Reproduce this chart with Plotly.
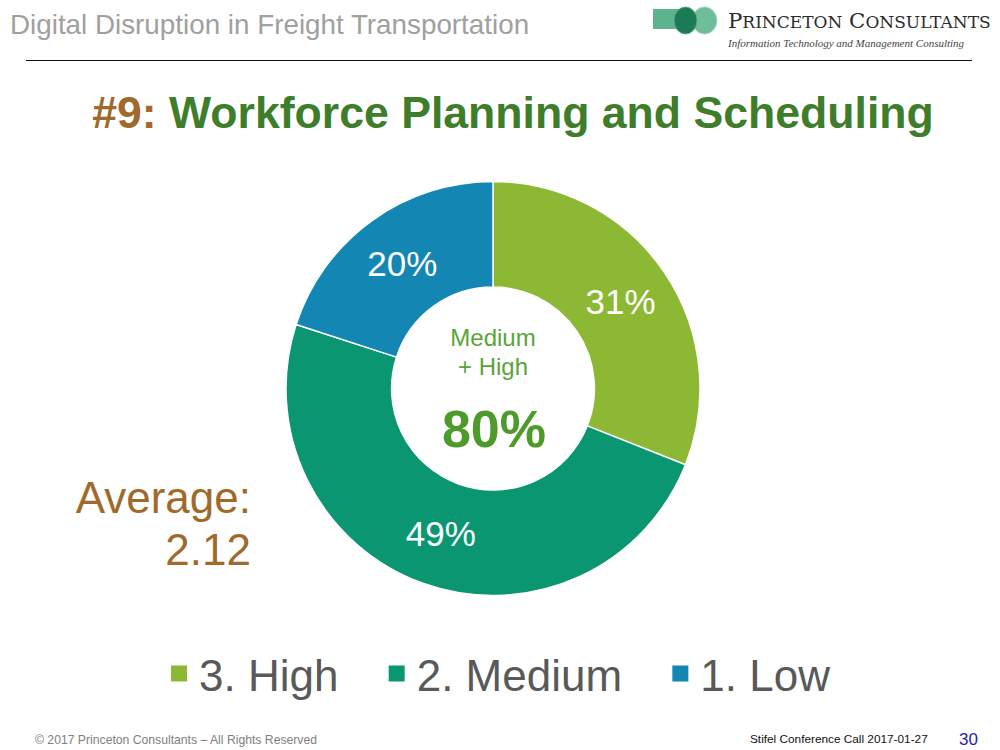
import plotly.graph_objects as go

# ---- data ----
categories = ["3. High", "2. Medium", "1. Low"]
values = [31, 49, 20]
colors = ["#8CB833", "#0B9672", "#1386B4"]
average_score = "2.12"

W, H = 1000, 750
SANS = "Liberation Sans, Arial, sans-serif"
SERIF = "DejaVu Serif, Liberation Serif, serif"
ISERIF = "Liberation Serif, Times New Roman, serif"


def px(x):
    return x / W


def py(y):
    return 1 - y / H


fig = go.Figure()

# donut
fig.add_trace(go.Pie(
    labels=categories,
    values=values,
    marker=dict(colors=colors, line=dict(color="white", width=1.5)),
    hole=0.49,
    sort=False,
    direction="clockwise",
    rotation=0,
    textinfo="percent",
    textposition="inside",
    insidetextorientation="horizontal",
    textfont=dict(family=SANS, size=35, color="white"),
    domain=dict(x=[px(286), px(700)], y=[py(597), py(180)]),
    showlegend=False,
    hoverinfo="label+percent",
))

# legend entries (same categories and colours)
for cat, col in zip(categories, colors):
    fig.add_trace(go.Scatter(
        x=[None], y=[None], mode="markers", name=cat + "\u00a0\u00a0\u2009",
        marker=dict(symbol="square", size=16, color=col, line=dict(width=0)),
        showlegend=True,
    ))

medium_high = values[0] + values[1]


def label(text, x, y, pos, family, size, color):
    fig.add_trace(go.Scatter(
        x=[x], y=[y], mode="text", text=[text], textposition=pos,
        textfont=dict(family=family, size=size, color=color),
        showlegend=False, hoverinfo="skip",
    ))


# header
label("Digital Disruption in Freight Transportation", 10, 27, "middle right", SANS, 27.8, "#A0A0A0")
# logo text
label("P<span style='font-size:17px'>RINCETON</span> C<span style='font-size:17px'>ONSULTANTS</span>",
      728, 23, "middle right", SERIF, 21.3, "#2B2B2B")
label("<i>Information Technology and Management Consulting</i>", 728, 44, "middle right",
      ISERIF, 11, "#444444")
# title
label("<b><span style='color:#A06A2C'>#9:</span> Workforce Planning and Scheduling</b>",
      513, 117, "middle center", SANS, 44.6, "#3E7D2A")
# centre of donut
label("Medium", 493, 340, "middle center", SANS, 24, "#5AA43A")
label("+ High", 493, 369, "middle center", SANS, 24, "#5AA43A")
label("<b>%d%%</b>" % medium_high, 494, 434, "middle center", SANS, 52, "#4C9B2B")
# average
label("Average:", 251, 502, "middle left", SANS, 44, "#A06A2C")
label(average_score, 251, 554, "middle left", SANS, 44, "#A06A2C")
# footer
label("\u00a9 2017 Princeton Consultants \u2013 All Rights Reserved", 35, 740.5, "middle right",
      SANS, 12.2, "#808080")
label("Stifel Conference Call 2017-01-27", 750, 740.5, "middle right", SANS, 11.8, "#111111")
label("30", 968.5, 740.5, "middle center", SANS, 17, "#2424B4")

shapes = [
    # header rule
    dict(type="line", xref="paper", yref="paper", x0=px(26), x1=px(972), y0=py(60.5), y1=py(60.5),
         line=dict(color="#111111", width=1.2)),
    # logo marks
    dict(type="rect", xref="paper", yref="paper", x0=px(653), x1=px(679), y0=py(29), y1=py(9),
         fillcolor="#5CB38E", line=dict(width=0)),
    dict(type="circle", xref="paper", yref="paper", x0=px(692), x1=px(717), y0=py(34), y1=py(7),
         fillcolor="#6DBE99", line=dict(color="#A8D9C2", width=1)),
    dict(type="circle", xref="paper", yref="paper", x0=px(674), x1=px(697), y0=py(34), y1=py(7),
         fillcolor="#1A7B56", line=dict(color="#5FA888", width=1)),
]

fig.update_layout(
    width=W, height=H,
    margin=dict(l=0, r=0, t=0, b=0),
    paper_bgcolor="white", plot_bgcolor="rgba(0,0,0,0)",
    xaxis=dict(visible=False, range=[0, W], fixedrange=True),
    yaxis=dict(visible=False, range=[H, 0], fixedrange=True),
    shapes=shapes,
    legend=dict(orientation="h", x=0.514, xanchor="center", y=py(674), yanchor="middle",
                font=dict(family=SANS, size=44, color="#595959"),
                itemclick=False, itemdoubleclick=False, bgcolor="rgba(0,0,0,0)"),
)

fig.write_html("out.html", config={"displayModeBar": False})

# remove the browser's default page margin so the figure sits at (0, 0)
with open("out.html", "r", encoding="utf-8") as f:
    page = f.read()
page = page.replace("<head>", "<head><style>html,body{margin:0;padding:0;overflow:hidden;}</style>", 1)
with open("out.html", "w", encoding="utf-8") as f:
    f.write(page)
